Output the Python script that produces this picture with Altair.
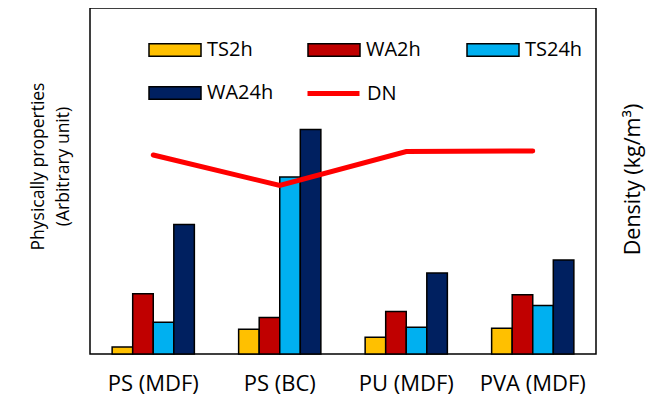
import altair as alt
import pandas as pd

categories = ["PS (MDF)", "PS (BC)", "PU (MDF)", "PVA (MDF)"]
series = ["TS2h", "WA2h", "TS24h", "WA24h"]
ts2h = [0.7, 2.5, 1.7, 2.6]
wa2h = [6.1, 3.7, 4.3, 6.0]
ts24h = [3.2, 17.9, 2.7, 4.9]
wa24h = [13.1, 22.7, 8.2, 9.5]
density = [575, 487, 585, 587]

bar_colors = ["#FFC000", "#C00000", "#00B0F0", "#002060"]
line_name = "DN"
line_color = "#FF0000"

series_keys = [f"{i}{s}" for i, s in enumerate(series, start=1)]
# order in which the legend grid receives the entries
legend_order = [series_keys[0], series_keys[2], series_keys[1], series_keys[3]]

rows = []
for s, k, vals in zip(series, series_keys, [ts2h, wa2h, ts24h, wa24h]):
    for c, v in zip(categories, vals):
        rows.append({"cat": c, "series": s, "key": k, "value": v})
bars_df = pd.DataFrame(rows)
line_df = pd.DataFrame({"cat": categories, "series": [line_name] * 4, "density": density})

FONT = "Open Sans"

bar_legend = alt.Legend(
    title=None,
    orient="none",
    legendX=58,
    legendY=15,
    columns=3,
    gridAlign="all",
    columnPadding=31,
    rowPadding=6,
    padding=0,
    values=legend_order,
    labelExpr="substring(datum.label, 1)",
    symbolSize=2704,
    symbolType="M-1,-0.24H1V0.24H-1Z",
    symbolStrokeColor="black",
    symbolStrokeWidth=1.5,
    symbolOpacity=1,
    labelFont=FONT,
    labelFontSize=20,
    labelColor="black",
    labelOffset=5,
    labelLimit=200,
)

line_legend = alt.Legend(
    title=None,
    orient="none",
    legendX=215,
    legendY=57,
    padding=0,
    symbolSize=2704,
    symbolType="stroke",
    symbolStrokeWidth=5,
    symbolOpacity=1,
    labelFont=FONT,
    labelFontSize=20,
    labelColor="black",
    labelOffset=5,
    labelLimit=200,
)

x_enc = alt.X(
    "cat:N",
    sort=categories,
    scale=alt.Scale(paddingInner=0.35, paddingOuter=0.175),
    axis=alt.Axis(
        title=None,
        labelAngle=0,
        ticks=False,
        domain=False,
        labelFont=FONT,
        labelFontSize=22,
        labelColor="black",
        labelPadding=19,
    ),
)

bars = alt.Chart(bars_df).mark_bar(stroke="black", strokeWidth=1.5).encode(
    x=x_enc,
    xOffset=alt.XOffset("key:N", sort=series_keys, scale=alt.Scale(paddingInner=0, paddingOuter=0)),
    y=alt.Y(
        "value:Q",
        scale=alt.Scale(domain=[0, 35], nice=False),
        axis=alt.Axis(
            title=["Physically properties", "(Arbitrary unit)"],
            labels=False,
            ticks=False,
            grid=False,
            domain=False,
            titleFont=FONT,
            titleFontSize=17.5,
            titleLineHeight=25,
            titleFontWeight="normal",
            titleColor="black",
            titlePadding=18,
            titleY=158,
        ),
    ),
    fill=alt.Fill("key:N", scale=alt.Scale(domain=series_keys, range=bar_colors), legend=bar_legend),
    stroke=alt.value("black"),
    strokeWidth=alt.value(1.5),
)

line = alt.Chart(line_df).mark_line(strokeWidth=5, strokeCap="round", strokeJoin="miter").encode(
    x=alt.X("cat:N", sort=categories),
    y=alt.Y(
        "density:Q",
        scale=alt.Scale(domain=[0, 1000], nice=False),
        axis=alt.Axis(
            orient="right",
            title="Density (kg/m³)",
            labels=False,
            ticks=False,
            grid=False,
            domain=False,
            titleFont=FONT,
            titleFontSize=21.5,
            titleFontWeight="normal",
            titleColor="black",
            titleAngle=270,
            titlePadding=48,
            titleY=171,
        ),
    ),
    stroke=alt.Stroke("series:N", scale=alt.Scale(domain=[line_name], range=[line_color]), legend=line_legend),
)

chart = (
    alt.layer(bars, line)
    .resolve_scale(y="independent")
    .properties(
        width=506,
        height=346,
        background="white",
        padding={"left": 82, "top": 0, "right": 50, "bottom": 47},
        autosize=alt.AutoSizeParams(type="none"),
    )
    .configure_view(stroke="black", strokeWidth=1.5)
)

chart.save("out.html", embed_options={"renderer": "svg", "actions": False})
